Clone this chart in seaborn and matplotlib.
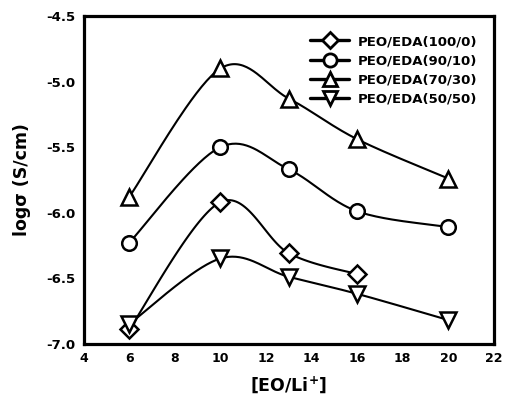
import numpy as np
import matplotlib
matplotlib.use("Agg")
import matplotlib.pyplot as plt
import seaborn as sns
from matplotlib.lines import Line2D

sns.set_theme(style="white")
plt.rcParams['font.family'] = ['DejaVu Sans']
plt.rcParams['mathtext.fontset'] = 'dejavusans'
plt.rcParams['text.color'] = 'black'
plt.rcParams['axes.labelcolor'] = 'black'
plt.rcParams['xtick.color'] = 'black'
plt.rcParams['ytick.color'] = 'black'

# ---- data ----
x_100_0 = [6, 10, 13, 16]
y_100_0 = [-6.89, -5.92, -6.31, -6.47]
x_90_10 = [6, 10, 13, 16, 20]
y_90_10 = [-6.23, -5.50, -5.67, -5.99, -6.11]
x_70_30 = [6, 10, 13, 16, 20]
y_70_30 = [-5.88, -4.90, -5.13, -5.44, -5.74]
x_50_50 = [6, 10, 13, 16, 20]
y_50_50 = [-6.85, -6.35, -6.49, -6.62, -6.82]
labels = ["PEO/EDA(100/0)", "PEO/EDA(90/10)", "PEO/EDA(70/30)", "PEO/EDA(50/50)"]
markers = ["D", "o", "^", "v"]
xticks = [4, 6, 8, 10, 12, 14, 16, 18, 20, 22]
yticks = [-7.0, -6.5, -6.0, -5.5, -5.0, -4.5]

XLIM = (4, 22)
YLIM = (-7.0, -4.5)

fig = plt.figure(figsize=(5.05, 4.01), dpi=100)
ax = fig.add_axes([0.1657, 0.1431, 0.978 - 0.1657, 0.96 - 0.1431])

# pixel scales for Excel-like smoothing
px_x = (494 - 83.7) / (XLIM[1] - XLIM[0])
px_y = (343.6 - 16.1) / (YLIM[1] - YLIM[0])


def smooth(xs, ys, n=40):
    P = np.column_stack([np.asarray(xs, float) * px_x, np.asarray(ys, float) * px_y])
    pts = np.vstack([P[0], P, P[-1]])
    out = []
    for i in range(1, len(pts) - 2):
        p0, p1, p2, p3 = pts[i - 1], pts[i], pts[i + 1], pts[i + 2]
        b1 = p1 + (p2 - p0) / 6.0
        b2 = p2 - (p3 - p1) / 6.0
        t = np.linspace(0, 1, n)[:, None]
        seg = ((1 - t) ** 3) * p1 + 3 * ((1 - t) ** 2) * t * b1 + 3 * (1 - t) * t ** 2 * b2 + t ** 3 * p2
        out.append(seg if i == 1 else seg[1:])
    S = np.vstack(out)
    return S[:, 0] / px_x, S[:, 1] / px_y


series = [(x_100_0, y_100_0), (x_90_10, y_90_10), (x_70_30, y_70_30), (x_50_50, y_50_50)]
msizes = [9, 10.5, 12, 11.5]
lsizes = [8, 9.5, 10.5, 10]
handles = []
for (xs, ys), m, lab, ms, lms in zip(series, markers, labels, msizes, lsizes):
    sx, sy = smooth(xs, ys)
    sns.lineplot(x=sx, y=sy, sort=False, estimator=None, color="black", lw=1.5, ax=ax, zorder=2)
    ax.plot(xs, ys, linestyle="none", marker=m, ms=ms, mfc="white", mec="black", mew=1.8, zorder=3)
    handles.append(Line2D([0], [0], color="black", lw=2.4, marker=m, ms=lms, mfc="white",
                          mec="black", mew=2.0, label=lab))

ax.set_xlim(*XLIM)
ax.set_ylim(*YLIM)
ax.set_xticks(xticks)
ax.set_yticks(yticks)
ax.set_xticklabels([str(v) for v in xticks], fontsize=9, fontweight="bold")
ax.set_yticklabels([f"{v:.1f}" for v in yticks], fontsize=9.5, fontweight="bold")
ax.tick_params(axis="both", direction="in", length=3, width=1, colors="black", pad=6)
for s in ax.spines.values():
    s.set_linewidth(2.3)
    s.set_color("black")

ax.set_xlabel("[EO/Li$^{\\mathbf{+}}$]", fontsize=12.5, fontweight="bold", labelpad=7)
ax.set_ylabel("logσ (S/cm)", fontsize=12.5, fontweight="bold", labelpad=11)

leg = ax.legend(handles=handles, loc="upper left", bbox_to_anchor=(0.54, 0.958), frameon=False,
                prop={"weight": "bold", "size": 9.5}, handlelength=2.9, handletextpad=0.7,
                labelspacing=0.47, borderaxespad=0)

fig.savefig("out.png", dpi=100)
